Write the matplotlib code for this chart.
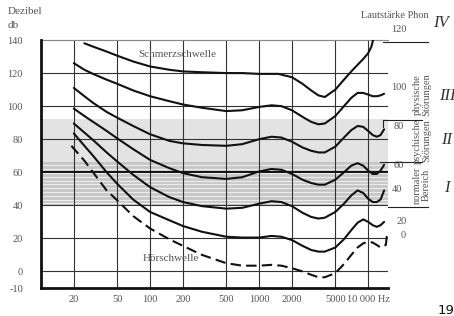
import matplotlib.pyplot as plt
from matplotlib.lines import Line2D
import numpy as np

# equal-loudness curves (frequency in Hz, level in dB)
freq_hz = [20, 25, 30, 40, 50, 70, 100, 150, 200, 300, 500, 700, 1000, 1300,
           1600, 2000, 2500, 3000, 3500, 4000, 5000, 6000, 7000, 8000, 9000,
           10000, 11000, 12000, 13000, 14000]
phon_100 = [126, 122, 119.5, 116, 113.5, 109.5, 106, 103, 101, 99, 97, 97.5, 99.5, 100.5,
            100, 97.5, 93.5, 90.5, 89, 89.5, 94, 100, 105, 108, 108, 107, 106, 106, 106.5, 107.5]
phon_80 = [111, 106, 102, 96.5, 93, 88, 83, 79, 77.5, 76.5, 76, 77, 80, 81.5,
           81, 78.5, 75, 73, 72, 72, 75.5, 81, 85.5, 88, 87.5, 85, 82.5, 81.5, 82.5, 86]
phon_60 = [98.5, 94, 90.5, 85, 80.5, 74, 67.5, 62.5, 59.5, 57, 56, 57, 60.5, 62,
           61.5, 59, 55.5, 53.5, 52.5, 52.5, 55.5, 60, 64, 65.5, 64, 61, 59, 59, 61, 64.5]
phon_40 = [89.5, 84, 79.5, 72, 66.5, 58.5, 51, 45, 42, 39.5, 38, 38.5, 41, 42.5,
           42, 39.5, 35.5, 33, 32, 32.5, 36, 41, 46, 49, 47.5, 44, 42, 42, 43.5, 49]
phon_20 = [83.5, 76, 70, 60, 53, 43.5, 36, 31, 27.5, 24, 21, 20.5, 20.5, 21.5,
           21, 19, 15.5, 13, 12, 12, 14.5, 19.5, 25, 29.5, 31.5, 30, 28, 27, 28, 30]

freq_120 = [25, 30, 40, 50, 70, 100, 150, 200, 300, 500, 700, 1000, 1500, 2000, 2500,
            3000, 3500, 4000, 5000, 6000, 7000, 8000, 9000, 10000, 10700, 11100]
phon_120 = [138, 136, 133, 130.5, 127, 124, 122, 121, 120.5, 120, 120, 119.5, 119.5, 117.5,
            113.5, 109.5, 106.5, 105.5, 110, 116, 121, 125, 128.5, 132, 136, 140]

freq_0 = [19, 25, 30, 40, 50, 70, 100, 150, 200, 300, 500, 700, 1000, 1300, 1600, 2000,
          2500, 3000, 3500, 4000, 5000, 6000, 7000, 8000, 9000, 10000, 11000, 12000,
          13000, 14500, 15000]
phon_0 = [76, 67, 60, 49, 43, 33.5, 26, 19.5, 15.5, 10, 5, 3.5, 3.5, 4, 3.5, 2,
          0, -2, -3.5, -3.5, -1, 4.5, 10, 14.5, 17, 18, 17.5, 16, 14.5, 16, 24]

grid_hz = [20, 50, 100, 200, 500, 1000, 2000, 5000, 10000]
tick_labels = ['20', '50', '100', '200', '500', '1000', '2000', '5000', '10 000 Hz']
db_ticks = [140, 120, 100, 80, 60, 40, 20, 0, -10]

W, H = 454, 316
def fx(x):
    return x / W
def fy(y):
    return 1 - y / H

serif = 'Liberation Serif'
tc = '#555555'

fig = plt.figure(figsize=(W / 100, H / 100), dpi=100)
ax = fig.add_axes([41 / W, 28 / H, 347 / W, 248 / H])
ax.set_xscale('log')
ax.set_xlim(10, 15200)
ax.set_ylim(-10, 140)

# shaded ranges
ax.axhspan(66, 92, color='#e3e3e3', zorder=0, lw=0)
ax.axhspan(40, 66, color='#c6c6c6', zorder=0, lw=0)
for s in np.arange(41.2, 66, 2.3):
    ax.axhline(s, color='#ececec', lw=0.9, zorder=0.5)

# grid
for f in grid_hz:
    ax.axvline(f, color='#333333', lw=0.8, zorder=1)
for d in [0, 20, 40, 80, 100, 120]:
    ax.axhline(d, color='#333333', lw=0.8, zorder=1)
ax.axhline(60, color='#111111', lw=1.4, zorder=1)
ax.axhline(140, color='#888888', lw=0.8, zorder=1, clip_on=False)

for sp in ['top', 'right']:
    ax.spines[sp].set_visible(False)
for sp in ['left', 'bottom']:
    ax.spines[sp].set_linewidth(2)
    ax.spines[sp].set_color('#111111')

# curves
kw = dict(color='#111111', lw=1.5, solid_capstyle='round', zorder=3)
ax.plot(freq_120, phon_120, **kw)
for db in [phon_100, phon_80, phon_60, phon_40, phon_20]:
    ax.plot(freq_hz, db, **kw)
ax.plot(freq_0, phon_0, color='#111111', lw=1.5, dashes=(5, 2.5), zorder=3)

ax.minorticks_off()
ax.set_xticks(grid_hz)
ax.set_xticklabels(tick_labels)
ax.set_yticks(db_ticks)
ax.set_yticklabels([str(v) for v in db_ticks])
ax.tick_params(axis='both', length=0, labelsize=7.5, labelcolor=tc)
ax.tick_params(axis='x', pad=5)
ax.tick_params(axis='y', pad=13)
for lab in ax.get_xticklabels() + ax.get_yticklabels():
    lab.set_fontfamily(serif)

ax.text(178, 131, 'Schmerzschwelle', family=serif, fontsize=8, color=tc, ha='center', va='center')
ax.text(155, 8, 'Hörschwelle', family=serif, fontsize=8, color=tc, ha='center', va='center')

fig.text(fx(8), fy(12), 'Dezibel', family=serif, fontsize=8, color=tc, va='center')
fig.text(fx(8), fy(25), 'db', family=serif, fontsize=8, color=tc, va='center')
fig.text(fx(395), fy(16), 'Lautstärke Phon', family=serif, fontsize=7.5, color=tc, ha='center', va='center')

# right-hand scale
for lab, x, y in [('120', 399, 30), ('100', 399, 87), ('80', 399, 127), ('60', 399, 165),
                  ('40', 397, 190), ('20', 402, 222), ('0', 403, 235)]:
    fig.text(fx(x), fy(y), lab, family=serif, fontsize=7.5, color=tc, ha='center', va='center')

for txt, y in [('physische\nStörungen', 95), ('psychische\nStörungen', 141), ('normaler\nBereich', 185)]:
    fig.text(fx(422), fy(y), txt, family=serif, fontsize=7.5, color=tc, rotation=90,
             ha='center', va='center', linespacing=1.0, multialignment='center')

for txt, x, y in [('IV', 441, 23), ('III', 447, 96), ('II', 447, 140), ('I', 447, 188)]:
    fig.text(fx(x), fy(y), txt, family=serif, style='italic', fontsize=12, color='#333333',
             ha='center', va='center')

for x0, x1, y in [(383, 428, 42), (383, 422, 120), (380, 422, 162), (388, 428, 207)]:
    fig.add_artist(Line2D([fx(x0), fx(x1)], [fy(y), fy(y)], color='#222222', lw=0.8))
fig.add_artist(Line2D([fx(383), fx(383)], [fy(120), fy(127)], color='#222222', lw=0.8))

fig.text(fx(438), fy(304), '19', family='DejaVu Sans', fontsize=9.5, color='#111111', va='top')

fig.savefig('out.png', dpi=100)
